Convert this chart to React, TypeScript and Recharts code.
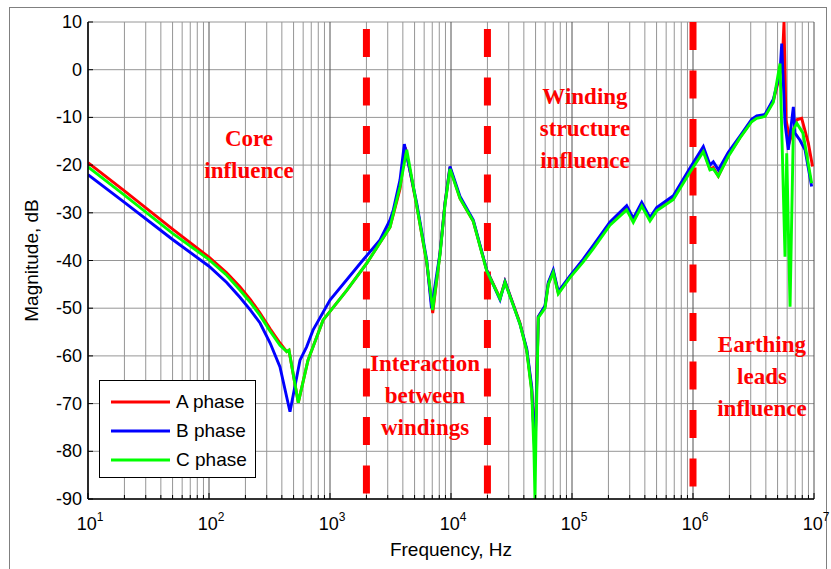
import React from 'react';
import { LineChart, Line, XAxis, YAxis, CartesianGrid, ReferenceLine, ReferenceDot, Legend } from 'recharts';

// ---------- data ----------
const freqA = [10, 20, 50, 100, 140, 180, 220, 264, 320, 386, 439, 458, 547, 658, 876, 1380, 2022, 3133, 3790, 4200, 5210, 6300, 7060, 8110, 8920, 9810, 11870, 15280, 19730, 25420, 27940, 37150, 42260, 46470, 49440, 52650, 59830, 63700, 70010, 77030, 96200, 123900, 149900, 206000, 283000, 321000, 377000, 441000, 501000, 688000, 944000, 1217000, 1381000, 1472000, 1619000, 1958000, 2445000, 3053000, 3359000, 3935000, 4613000, 5240000, 5500000, 5650000, 5870000, 6340000, 7200000, 7910000, 8980000, 9730000];
const magA = [-19.5, -25.4, -33.4, -39.3, -42.6, -45.5, -48.2, -51, -54.3, -57.3, -59.1, -58.8, -69.8, -60.9, -52.5, -46.2, -40.5, -33, -25, -16.3, -28.5, -40.5, -51, -38.5, -28, -20.5, -27, -31.8, -42, -47.9, -44.4, -53.1, -58.8, -67.1, -80, -51.8, -49.7, -44.8, -42.3, -46.8, -43.4, -40, -37.1, -32.2, -28.9, -31.5, -28.2, -31.2, -29.3, -26.8, -21, -16.8, -20.8, -20.5, -22.3, -18, -14.2, -10.8, -10, -9.7, -6.5, -1, 3, 10, -10.5, -14.8, -10.5, -10.2, -15.4, -20.3];

const freqB = [10, 20, 50, 100, 140, 180, 220, 264, 320, 386, 467, 565, 641, 724, 1000, 1874, 2590, 3133, 3337, 3790, 4115, 5210, 6300, 6900, 8110, 8920, 9810, 11870, 15280, 19730, 25420, 27940, 37150, 42260, 46470, 49440, 52650, 59830, 63700, 70010, 77030, 96200, 123900, 149900, 206000, 283000, 321000, 377000, 441000, 501000, 688000, 944000, 1217000, 1381000, 1472000, 1619000, 1958000, 2445000, 3053000, 3359000, 3935000, 4613000, 5240000, 5410000, 5760000, 6130000, 6750000, 6970000, 7660000, 8430000, 9560000];
const magB = [-22, -27.8, -35.6, -41.2, -44.6, -47.7, -50.4, -53.1, -57.3, -62.3, -71.7, -60.9, -58.1, -54.6, -48.3, -39.9, -35.7, -31.5, -29.4, -23.1, -15.6, -28, -39.9, -50, -38.5, -28, -20.3, -26.6, -31.5, -42, -48.2, -44.4, -53.3, -58.5, -66.5, -81, -51.8, -49.5, -44.6, -42, -46.5, -43.2, -39.7, -36.8, -31.9, -28.5, -31.2, -27.8, -31, -28.9, -26.4, -20.6, -16.1, -20, -19.3, -21, -17.3, -13.9, -10.4, -9.7, -9.4, -6.2, -0.5, 5.5, -11.2, -16.8, -7.8, -13.3, -14.8, -16.8, -24.5];

const freqC = [10, 20, 50, 100, 140, 180, 220, 264, 320, 386, 439, 458, 547, 658, 876, 1380, 2022, 3133, 3790, 4306, 5210, 6300, 7060, 8110, 8920, 9810, 11870, 15280, 19730, 25420, 27940, 37150, 42260, 46470, 48500, 49440, 50500, 52650, 59830, 63700, 70010, 77030, 96200, 123900, 149900, 206000, 283000, 321000, 377000, 441000, 501000, 688000, 944000, 1217000, 1381000, 1472000, 1619000, 1958000, 2445000, 3053000, 3359000, 3935000, 4613000, 5240000, 5760000, 5950000, 6340000, 6750000, 7200000, 8110000, 9560000];
const magC = [-20.4, -26.3, -34.3, -39.8, -43.1, -46.2, -48.8, -51.5, -54.8, -57.8, -59.1, -58.8, -69.8, -60.9, -52.5, -46.2, -40.5, -33, -24.5, -16.8, -28.5, -40.3, -50.4, -38.8, -28.3, -20.8, -27, -31.8, -42.2, -48, -44.6, -53.3, -59, -67.5, -80, -90, -75, -52, -50, -45, -42.5, -47, -43.6, -40.3, -37.5, -32.6, -29.4, -32, -28.6, -31.7, -29.6, -27.2, -21.5, -17.2, -21, -20.8, -22.3, -18.2, -14.3, -10.9, -10.2, -9.8, -6.8, 1.3, -39.2, -17.5, -49.7, -12.6, -11.2, -13.3, -23.8];

const seriesNames = ['A phase', 'B phase', 'C phase'];
const seriesColors = ['#ff0000', '#0000ff', '#00ff00'];

const decades = [10, 100, 1000, 10000, 100000, 1000000, 10000000];
const minorMultipliers = [1, 2, 3, 4, 5, 6, 7, 8, 9];
const yTicks = [-90, -80, -70, -60, -50, -40, -30, -20, -10, 0, 10];
const regionBoundaries = [2000, 20000, 1000000];

const annotations = [
  { f: 214, db: -17.6, lines: ['Core', 'influence'] },
  { f: 128000, db: -12.2, lines: ['Winding', 'structure', 'influence'] },
  { f: 6100, db: -68.2, lines: ['Interaction', 'between', 'windings'] },
  { f: 3715000, db: -64.2, lines: ['Earthing', 'leads', 'influence'] },
];

// ---------- derived ----------
const toRows = (fs: number[], ms: number[]) => fs.map((f, i) => ({ f, db: ms[i] }));
const dataA = toRows(freqA, magA);
const dataB = toRows(freqB, magB);
const dataC = toRows(freqC, magC);
const seriesData = [dataA, dataB, dataC];

const xTicks: number[] = [];
decades.slice(0, -1).forEach((d) => minorMultipliers.forEach((m) => xTicks.push(d * m)));
xTicks.push(10000000);
const minorGrid = xTicks.filter((v) => !decades.includes(v));

const AXIS_FONT = 'Liberation Sans, Arial, sans-serif';

const isDecade = (v: number) => Math.abs(Math.log10(v) - Math.round(Math.log10(v))) < 1e-9;

const BottomTick = (props: any) => {
  const { x, y, payload } = props;
  const v = payload.value;
  const major = isDecade(v);
  return (
    <g>
      <line x1={x} x2={x} y1={y} y2={y - (major ? 6 : 4)} stroke="#000" strokeWidth={1} />
      {major && (
        <text x={x + 2} y={y + 31} textAnchor="middle" fontFamily={AXIS_FONT} fontSize={18} fill="#000">
          10
          <tspan dy={-9} fontSize={12}>{Math.round(Math.log10(v))}</tspan>
        </text>
      )}
    </g>
  );
};

const TopTick = (props: any) => {
  const { x, y, payload } = props;
  const major = isDecade(payload.value);
  return <line x1={x} x2={x} y1={y} y2={y + (major ? 6 : 4)} stroke="#000" strokeWidth={1} />;
};

const LeftTick = (props: any) => {
  const { x, y, payload } = props;
  return (
    <g>
      <line x1={x} x2={x + 5} y1={y} y2={y} stroke="#000" strokeWidth={1} />
      <text x={x - 6} y={y + 6} textAnchor="end" fontFamily={AXIS_FONT} fontSize={18} fill="#000">
        {payload.value}
      </text>
    </g>
  );
};

const RightTick = (props: any) => {
  const { x, y } = props;
  return <line x1={x} x2={x - 5} y1={y} y2={y} stroke="#000" strokeWidth={1} />;
};

const AnnotationLabel = (props: any) => {
  const { viewBox, lines } = props;
  const cx = viewBox.x + (viewBox.width || 0) / 2;
  const cy = viewBox.y + (viewBox.height || 0) / 2;
  const lh = 32;
  const start = cy - ((lines.length - 1) * lh) / 2;
  return (
    <g>
      {lines.map((t: string, i: number) => (
        <text
          key={i}
          x={cx}
          y={start + i * lh + 8}
          textAnchor="middle"
          fontFamily="Liberation Serif, Times New Roman, serif"
          fontWeight="bold"
          fontSize={23}
          fill="#ff0000"
        >
          {t}
        </text>
      ))}
    </g>
  );
};

const LegendBox = (props: any) => {
  const items = props.payload || [];
  return (
    <div
      style={{
        width: 157,
        height: 98,
        boxSizing: 'border-box',
        border: '1.5px solid #000',
        background: '#fff',
        paddingTop: 6,
      }}
    >
      {items.map((it: any) => (
        <div key={it.value} style={{ display: 'flex', alignItems: 'center', height: 29 }}>
          <svg width={76} height={10} style={{ display: 'block' }}>
            <line x1={11} x2={70} y1={5} y2={5} stroke={it.color} strokeWidth={3} />
          </svg>
          <span style={{ fontFamily: AXIS_FONT, fontSize: 19, color: '#000', lineHeight: '20px' }}>{it.value}</span>
        </div>
      ))}
    </div>
  );
};

export default function App() {
  return (
    <div style={{ position: 'absolute', left: 0, top: 0, width: 831, height: 569, background: '#fff', overflow: 'hidden' }}>
      <div
        style={{
          position: 'absolute',
          left: 9,
          top: 7,
          width: 818,
          height: 600,
          border: '1.5px solid #808080',
          boxSizing: 'border-box',
        }}
      />
      <LineChart width={831} height={569} margin={{ top: 22, right: 17, bottom: 0, left: 0 }}>
        <CartesianGrid
          stroke="#969696"
          strokeWidth={1}
          verticalValues={minorGrid}
          horizontalValues={yTicks}
        />
        {decades.map((d) => (
          <ReferenceLine key={'dec' + d} x={d} stroke="#505050" strokeWidth={1} />
        ))}
        <XAxis
          dataKey="f"
          type="number"
          scale="log"
          domain={[10, 10000000]}
          allowDataOverflow
          ticks={xTicks}
          interval={0}
          tickSize={0}
          tickMargin={0}
          tickLine={false}
          tick={<BottomTick />}
          height={70}
          axisLine={{ stroke: '#000', strokeWidth: 1.5 }}
          label={(p: any) => {
            const vb = p.viewBox;
            return (
              <text x={vb.x + vb.width / 2} y={vb.y + 57} textAnchor="middle" fontFamily={AXIS_FONT} fontSize={19} fill="#000">
                Frequency, Hz
              </text>
            );
          }}
        />
        <XAxis
          xAxisId="top"
          orientation="top"
          type="number"
          scale="log"
          domain={[10, 10000000]}
          allowDataOverflow
          ticks={xTicks}
          interval={0}
          tickSize={0}
          tickMargin={0}
          tickLine={false}
          tick={<TopTick />}
          height={0}
          axisLine={{ stroke: '#000', strokeWidth: 1.5 }}
        />
        <YAxis
          type="number"
          domain={[-90, 10]}
          allowDataOverflow
          ticks={yTicks}
          interval={0}
          tickSize={0}
          tickMargin={0}
          tickLine={false}
          tick={<LeftTick />}
          width={88}
          axisLine={{ stroke: '#000', strokeWidth: 1.5 }}
          label={(p: any) => {
            const vb = p.viewBox;
            const cx = vb.x + 38;
            const cy = vb.y + vb.height / 2;
            return (
              <text x={cx} y={cy} transform={`rotate(-90 ${cx} ${cy})`} textAnchor="middle" fontFamily={AXIS_FONT} fontSize={19} fill="#000">
                Magnitude, dB
              </text>
            );
          }}
        />
        <YAxis
          yAxisId="right"
          orientation="right"
          type="number"
          domain={[-90, 10]}
          allowDataOverflow
          ticks={yTicks}
          interval={0}
          tickSize={0}
          tickMargin={0}
          tickLine={false}
          tick={<RightTick />}
          width={0}
          axisLine={{ stroke: '#000', strokeWidth: 1.5 }}
        />
        {regionBoundaries.map((b, i) => (
          <ReferenceLine
            key={'rb' + b}
            segment={[{ x: b, y: 10 }, { x: b, y: -90 }]}
            stroke="#ff0000"
            strokeWidth={7}
            strokeDasharray="28 20.5"
            strokeDashoffset={i === 2 ? 0 : 41.5}
          />
        ))}
        {seriesData.map((d, i) => (
          <Line
            key={seriesNames[i]}
            data={d}
            dataKey="db"
            name={seriesNames[i]}
            type="linear"
            stroke={seriesColors[i]}
            strokeWidth={2.9}
            dot={false}
            legendType="line"
            isAnimationActive={false}
          />
        ))}
        {annotations.map((a) => (
          <ReferenceDot
            key={a.lines.join(' ')}
            x={a.f}
            y={a.db}
            r={0}
            fill="none"
            stroke="none"
            label={(p: any) => <AnnotationLabel {...p} lines={a.lines} />}
          />
        ))}
        <Legend
          layout="vertical"
          align="center"
          verticalAlign="middle"
          wrapperStyle={{ position: 'absolute', left: 99, top: 380, width: 157, height: 98 }}
          content={<LegendBox />}
        />
      </LineChart>
    </div>
  );
}
